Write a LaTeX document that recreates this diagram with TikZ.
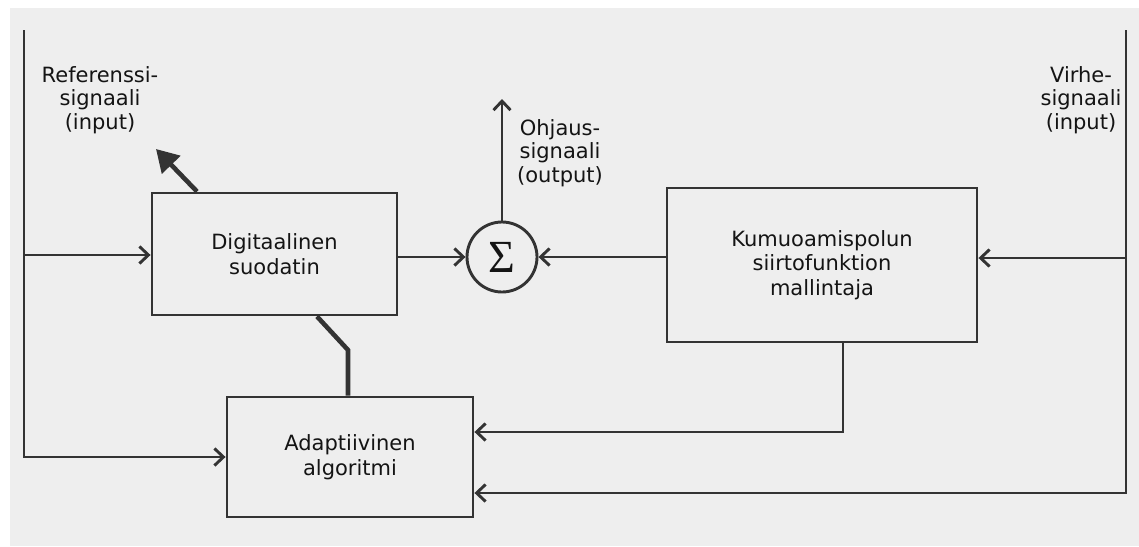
\documentclass[tikz,border=0pt]{standalone}
\usepackage{fontspec}
\setmainfont{DejaVu Sans}
\newfontfamily\sigmafont{Liberation Serif}
\usetikzlibrary{arrows.meta}
\definecolor{ink}{HTML}{333333}
\definecolor{paper}{HTML}{EEEEEE}
\definecolor{txt}{HTML}{141414}
\begin{document}
\begin{tikzpicture}[x=1pt,y=-1pt,
  wire/.style={draw=ink, line width=2.9pt, line join=miter},
  feed/.style={wire, -{Straight Barb[length=9pt,width=17pt]}},
  heavy/.style={draw=ink, line width=4.6pt},
  block/.style={draw=ink, line width=2.9pt, align=center, inner sep=0pt,
    text=txt, font=\fontsize{21}{24.5}\selectfont},
  caption/.style={align=center, inner sep=0pt, text=txt,
    font=\fontsize{21}{23.5}\selectfont}]

% paper
\useasboundingbox (0,0) rectangle (1139,546);
\fill[white] (0,0) rectangle (1139,546);
\fill[paper] (10,8) rectangle (1139,546);

% blocks
\node[block, minimum width=245pt, minimum height=122pt] (filt) at (274.5,254)
  {Digitaalinen\\suodatin};
\node[block, minimum width=310pt, minimum height=154pt] (model) at (822,265)
  {Kumuoamispolun\\siirtofunktion\\mallintaja};
\node[block, minimum width=246pt, minimum height=120pt] (adapt) at (350,457)
  {Adaptiivinen\\algoritmi};
\node[circle, draw=ink, line width=2.9pt, minimum size=70pt, inner sep=0pt,
  text=txt] (sum) at (502,257) {\sigmafont\fontsize{46}{46}\selectfont Σ};

% signal labels
\node[caption] (reflbl) at (100,100) {Referenssi-\\signaali\\(input)};
\node[caption] (errlbl) at (1081,100) {Virhe-\\signaali\\(input)};
\node[caption] (outlbl) at (560,153) {Ohjaus-\\signaali\\(output)};

% routing points
\coordinate (ltop) at (24,30);
\coordinate (lbot) at (24,457);
\coordinate (ljoin) at (24,255);
\coordinate (rtop) at (1126,30);
\coordinate (rbot) at (1126,493);
\coordinate (rjoin) at (1126,258);
\coordinate (mdrop) at (843,432);
\coordinate (out) at (502,99);
\coordinate (kink) at (348,350);
\coordinate (tweak) at (156,149);

% reference signal path
\draw[feed] (ltop) -- (lbot) -- (adapt.west);
\draw[feed] (ljoin) -- (ljoin -| filt.west);

% error signal path
\draw[feed] (rtop) -- (rbot) -- (rbot -| adapt.east);
\draw[feed] (rjoin) -- (rjoin -| model.east);

% model output to the adaptive algorithm
\draw[feed] ([xshift=21pt]model.south) -- (mdrop) -- (mdrop -| adapt.east);

% summing junction
\draw[feed] (filt.east |- sum.center) -- (sum.west);
\draw[feed] (model.west |- sum.center) -- (sum.east);
\draw[feed] (sum.north) -- (out);

% coefficient update link
\draw[heavy, line join=miter] ([xshift=42.5pt]filt.south) -- (kink) -- (kink |- adapt.north);
\draw[heavy, -{Triangle[length=22pt,width=25pt]}] ([xshift=-77.5pt]filt.north) -- (tweak);
\end{tikzpicture}
\end{document}
